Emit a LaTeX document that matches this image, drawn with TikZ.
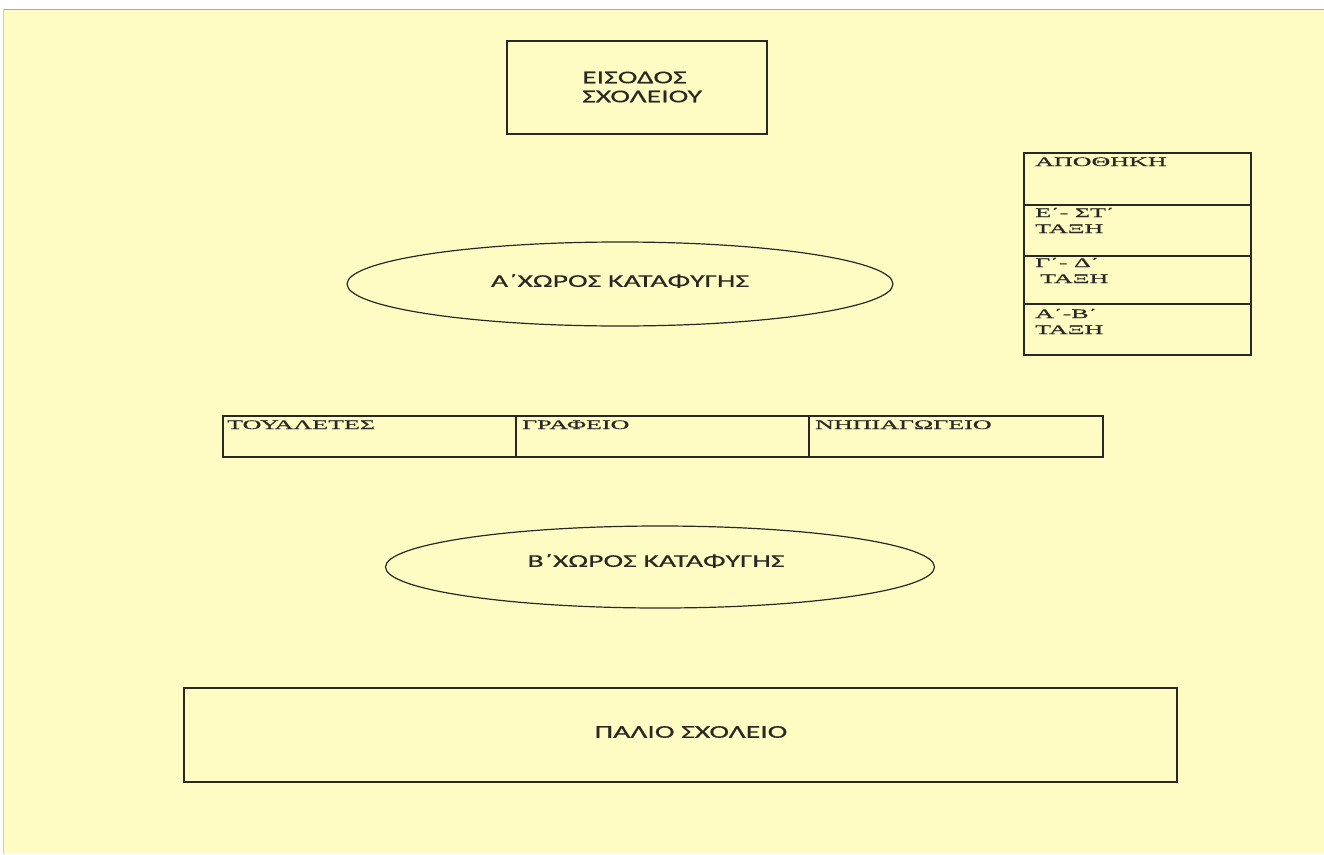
\documentclass[tikz,border=0pt]{standalone}
\usepackage{fontspec}
\usetikzlibrary{shapes.geometric}
\newfontfamily\gsans[FakeStretch=1.65,FakeBold=0.4]{Carlito}
\newfontfamily\gserif[FakeStretch=2.0,FakeBold=0.5]{Liberation Serif}
\definecolor{paper}{RGB}{254,252,194}
\definecolor{ink}{RGB}{40,40,36}
\tikzset{
  x=1pt, y=-1pt,
  room/.style={draw=ink, line width=1.2pt, rectangle, inner sep=0pt},
  shelter/.style={draw=ink, line width=1.2pt, ellipse, inner sep=0pt},
  sanslabel/.style={text=ink, inner sep=0pt, font=\gsans\fontsize{18}{19}\selectfont},
  seriflabel/.style={text=ink, inner sep=0pt, font=\gserif\fontsize{13}{16}\selectfont},
}
\begin{document}
\begin{tikzpicture}
\useasboundingbox (0,0) rectangle (1324,854);
\fill[white] (0,0) rectangle (1324,854);
\fill[paper] (4,9) rectangle (1324,854);
\draw[gray!70, line width=1pt] (4,9.5) -- (1324,9.5);
\draw[gray!40, line width=1pt] (3.5,9) -- (3.5,854);

% entrance
\node[room, minimum width=260pt, minimum height=93pt] (entr) at (637,87.5) {};
\node[sanslabel, anchor=west, align=left] (entrt) at (582,87) {ΕΙΣΟΔΟΣ\\ΣΧΟΛΕΙΟΥ};

% right column
\node[room, minimum width=227pt, minimum height=52pt] (stor) at (1137.5,179) {};
\node[room, minimum width=227pt, minimum height=51pt] (c56) at (1137.5,230.5) {};
\node[room, minimum width=227pt, minimum height=48pt] (c34) at (1137.5,280) {};
\node[room, minimum width=227pt, minimum height=51pt] (c12) at (1137.5,329.5) {};
\node[seriflabel, anchor=base west] (stort) at (1035,166) {ΑΠΟΘΗΚΗ};
\node[seriflabel, anchor=base west] (c56a) at (1035,217) {Ε΄- ΣΤ΄};
\node[seriflabel, anchor=base west] (c56b) at (1035,233) {ΤΑΞΗ};
\node[seriflabel, anchor=base west] (c34a) at (1035,267) {Γ΄- Δ΄};
\node[seriflabel, anchor=base west] (c34b) at (1040,283) {ΤΑΞΗ};
\node[seriflabel, anchor=base west] (c12a) at (1035,318) {Α΄-Β΄};
\node[seriflabel, anchor=base west] (c12b) at (1035,334) {ΤΑΞΗ};

% shelter A
\node[shelter, minimum width=546pt, minimum height=84pt] (shA) at (620,284) {};
\node[sanslabel] (shAt) at (620,281) {Α΄ΧΩΡΟΣ ΚΑΤΑΦΥΓΗΣ};

% row
\node[room, minimum width=293pt, minimum height=41pt] (wc) at (369.5,436.5) {};
\node[room, minimum width=293pt, minimum height=41pt] (off) at (662.5,436.5) {};
\node[room, minimum width=294pt, minimum height=41pt] (kind) at (956,436.5) {};
\node[seriflabel, anchor=base west] (wct) at (227,429) {ΤΟΥΑΛΕΤΕΣ};
\node[seriflabel, anchor=base west] (offt) at (522,429) {ΓΡΑΦΕΙΟ};
\node[seriflabel, anchor=base west] (kindt) at (815,429) {ΝΗΠΙΑΓΩΓΕΙΟ};

% shelter B
\node[shelter, minimum width=549pt, minimum height=82pt] (shB) at (660,567) {};
\node[sanslabel] (shBt) at (656,561) {Β΄ΧΩΡΟΣ ΚΑΤΑΦΥΓΗΣ};

% old school
\node[room, minimum width=993pt, minimum height=94pt] (old) at (680.5,735) {};
\node[sanslabel] (oldt) at (691,732) {ΠΑΛΙΟ ΣΧΟΛΕΙΟ};
\end{tikzpicture}
\end{document}
